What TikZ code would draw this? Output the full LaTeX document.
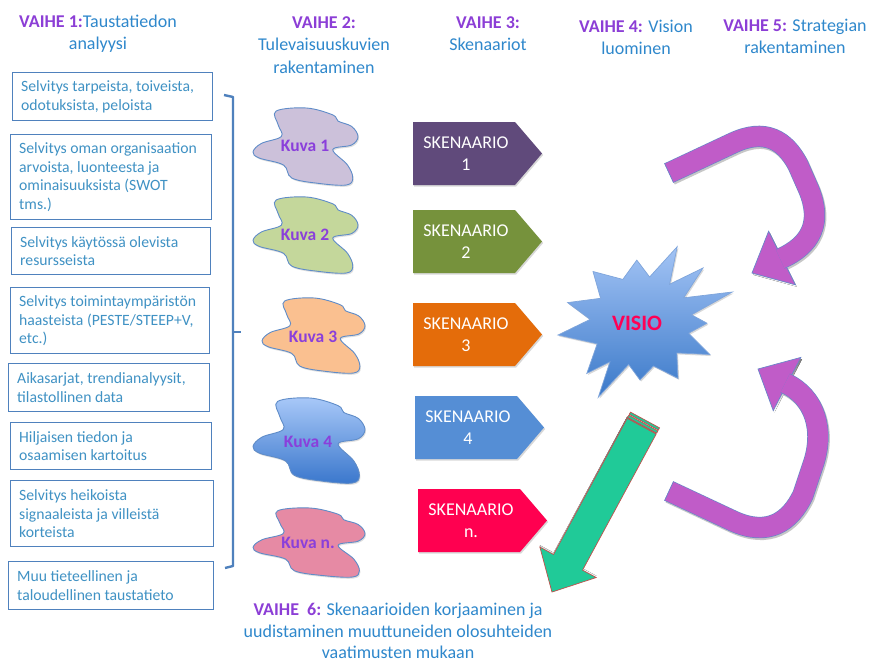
\documentclass[tikz,border=0pt]{standalone}
\usepackage{fontspec}
\setmainfont{Carlito}
\usetikzlibrary{shadows}

\definecolor{vaihe}{RGB}{140,62,214}
\definecolor{headblue}{RGB}{47,136,204}
\definecolor{boxtext}{RGB}{64,146,196}
\definecolor{boxedge}{RGB}{79,129,189}
\definecolor{kuvatext}{RGB}{138,63,219}
\definecolor{blobedge}{RGB}{95,140,200}
\definecolor{kuvaA}{HTML}{CCC1DA}
\definecolor{kuvaB}{HTML}{C4D79B}
\definecolor{kuvaC}{HTML}{FAC090}
\definecolor{kuvaDtop}{HTML}{A8C8F8}
\definecolor{kuvaDbot}{HTML}{3A77CC}
\definecolor{kuvaN}{HTML}{E68AA4}
\definecolor{skenA}{HTML}{604A7B}
\definecolor{skenB}{HTML}{76923C}
\definecolor{skenC}{HTML}{E46C0A}
\definecolor{skenD}{HTML}{558ED5}
\definecolor{skenN}{HTML}{FF0050}
\definecolor{startop}{HTML}{A3C4F5}
\definecolor{starbot}{HTML}{3B79C9}
\definecolor{staredge}{HTML}{7FA5DB}
\definecolor{visiored}{HTML}{FF0055}
\definecolor{purp}{HTML}{C05CC8}
\definecolor{purpedge}{HTML}{6A86C9}
\definecolor{greenarrow}{HTML}{20CA98}
\definecolor{greenedge}{HTML}{C0504D}
\definecolor{shade}{gray}{0.78}

\newcommand\vaihetxt[1]{\textcolor{vaihe}{\bfseries #1}}

% irregular blob for the "Kuva" pictures: x, y (top left), width, height, fill options
\newcommand\kuvablob[5]{%
  \begin{scope}[shift={(#1,#2)}, x=#3pt, y=-#4pt]
    \draw[blob,#5] plot[smooth cycle, tension=0.6] coordinates {
      (0.22,0.04) (0.51,0) (0.76,0.09) (0.81,0.17) (0.94,0.24) (1,0.37)
      (0.94,0.48) (0.76,0.54) (0.90,0.74) (0.95,0.91) (0.89,1) (0.63,0.98)
      (0.37,0.91) (0.29,0.74) (0.06,0.65) (0,0.57) (0.08,0.46) (0.27,0.37)
      (0.24,0.22)};
  \end{scope}}

% pentagon arrow for a scenario: name, left x, top y, colour, label
\newcommand\skenshape[5]{%
  \draw[sken, fill=#4] (#2,#3) -- ++(102,0) -- ++(27,31.5) -- ++(-27,31.5) -- ++(-102,0) -- cycle;
  \node[skentxt] (#1) at (#2+53,#3+31.5) {SKENAARIO\\#5};}

\tikzset{
  head/.style={align=center, text=headblue, font=\fontsize{18}{22.2}\selectfont},
  lbox/.style={draw=boxedge, line width=1.3pt, anchor=north west, inner sep=0pt},
  lboxtext/.style={anchor=west, align=left, inner sep=0pt, text=boxtext,
    font=\fontsize{15.7}{18.8}\selectfont},
  bracket/.style={draw=boxedge, line width=2.4pt, line join=round},
  blob/.style={draw=blobedge, line width=0.9pt,
    drop shadow={opacity=0.25, shadow xshift=1pt, shadow yshift=-1.5pt}},
  kuvatxt/.style={text=kuvatext, font=\bfseries\fontsize{17.5}{20}\selectfont},
  sken/.style={draw=none, drop shadow={opacity=0.3, shadow xshift=1.2pt, shadow yshift=-1.5pt}},
  skentxt/.style={align=center, text=white, font=\fontsize{18}{22}\selectfont},
  purpshaft/.style={draw=purpedge, double=purp, double distance=20pt, line width=0.7pt,
    line cap=butt, line join=round},
  purphead/.style={fill=purp, draw=purpedge, line width=0.7pt, line join=miter},
  purpshadow/.style={draw=shade, line width=21.4pt, line cap=butt},
  greenshape/.style={fill=greenarrow, draw=greenedge, line width=0.7pt, line join=miter},
}

\begin{document}
\begin{tikzpicture}[x=1pt, y=-1pt]
\useasboundingbox (0,0) rectangle (869,664);
\fill[white] (0,0) rectangle (869,664);

% ---- phase headings ----
\node[head] (v1) at (98,34) {\vaihetxt{VAIHE 1:}Taustatiedon\\analyysi};
\node[head] (v2) at (324,45) {\vaihetxt{VAIHE 2:}\\Tulevaisuuskuvien\\rakentaminen};
\node[head] (v3) at (488,34) {\vaihetxt{VAIHE 3:}\\Skenaariot};
\node[head] (v4) at (636,37) {\vaihetxt{VAIHE 4:} Vision\\luominen};
\node[head] (v5) at (795,36) {\vaihetxt{VAIHE 5:} Strategian\\rakentaminen};
\node[head, font=\fontsize{18}{21.5}\selectfont] (v6) at (398,631) {\vaihetxt{VAIHE\ \ 6:} Skenaarioiden korjaaminen ja\\uudistaminen muuttuneiden olosuhteiden\\vaatimusten mukaan};

% ---- background analysis boxes ----
\node[lbox, minimum width=200pt, minimum height=48pt] (b1) at (12,72) {};
\node[lboxtext] (t1) at ([xshift=9pt]b1.west) {Selvitys tarpeista, toiveista,\\odotuksista, peloista};
\node[lbox, minimum width=201pt, minimum height=85pt] (b2) at (10,134) {};
\node[lboxtext] (t2) at ([xshift=9pt]b2.west) {Selvitys oman organisaation\\arvoista, luonteesta ja\\ominaisuuksista (SWOT\\tms.)};
\node[lbox, minimum width=199pt, minimum height=47pt] (b3) at (11,227) {};
\node[lboxtext] (t3) at ([xshift=9pt]b3.west) {Selvitys käytössä olevista\\resursseista};
\node[lbox, minimum width=199pt, minimum height=66pt] (b4) at (10,287) {};
\node[lboxtext] (t4) at ([xshift=9pt]b4.west) {Selvitys toimintaympäristön\\haasteista (PESTE/STEEP+V,\\etc.)};
\node[lbox, minimum width=201pt, minimum height=48pt] (b5) at (8,363) {};
\node[lboxtext] (t5) at ([xshift=9pt]b5.west) {Aikasarjat, trendianalyysit,\\tilastollinen data};
\node[lbox, minimum width=201pt, minimum height=47pt] (b6) at (10,422) {};
\node[lboxtext] (t6) at ([xshift=9pt]b6.west) {Hiljaisen tiedon ja\\osaamisen kartoitus};
\node[lbox, minimum width=203pt, minimum height=66pt] (b7) at (10,480) {};
\node[lboxtext] (t7) at ([xshift=9pt]b7.west) {Selvitys heikoista\\signaaleista ja villeistä\\korteista};
\node[lbox, minimum width=205pt, minimum height=48pt] (b8) at (8,561) {};
\node[lboxtext] (t8) at ([xshift=9pt]b8.west) {Muu tieteellinen ja\\taloudellinen taustatieto};

% ---- bracket gathering the boxes ----
\draw[bracket] (224,95) -- (233,97) -- (233,566) -- (225,568);
\draw[bracket] (233,332) -- (241,332);

% ---- future images ----
\kuvablob{253}{108}{105}{77}{fill=kuvaA}
\node[kuvatxt] (k1) at (305,146) {Kuva 1};
\kuvablob{253}{197}{105}{76}{fill=kuvaB}
\node[kuvatxt] (k2) at (305,235) {Kuva 2};
\kuvablob{262}{298}{103}{75}{fill=kuvaC}
\node[kuvatxt] (k3) at (313,337) {Kuva 3};
\kuvablob{253}{398}{112}{85}{top color=kuvaDtop, bottom color=kuvaDbot}
\node[kuvatxt] (k4) at (308,442) {Kuva 4};
\kuvablob{253}{508}{112}{69}{fill=kuvaN}
\node[kuvatxt] (kn) at (308,543) {Kuva n.};

% ---- scenarios ----
\skenshape{s1}{413}{122}{skenA}{1}
\skenshape{s2}{413}{210}{skenB}{2}
\skenshape{s3}{413}{303}{skenC}{3}
\skenshape{s4}{415}{396}{skenD}{4}
\skenshape{sn}{418}{489}{skenN}{n.}

% ---- vision burst ----
\draw[top color=startop, bottom color=starbot, draw=staredge, line width=0.7pt,
      drop shadow={opacity=0.3, shadow xshift=1.2pt, shadow yshift=-1.5pt}]
  (636.8,260.1) -- (649.6,277.0) -- (677.2,246.7) -- (669.6,284.2) -- (703.0,268.0)
  -- (683.7,297.8) -- (732.3,292.0) -- (691.5,314.8) -- (707.0,323.2) -- (688.7,333.2)
  -- (709.8,354.5) -- (676.8,352.9) -- (678.0,378.4) -- (653.4,366.0) -- (640.0,380.0)
  -- (628.6,364.5) -- (598.3,397.2) -- (609.9,361.9) -- (586.8,373.4) -- (597.2,343.8)
  -- (558.0,335.0) -- (590.1,319.4) -- (567.6,302.6) -- (600.6,298.3) -- (593.0,271.5)
  -- (622.8,279.4) -- cycle;
\node[text=visiored, font=\bfseries\fontsize{22}{26}\selectfont] (visio) at (637,323) {VISIO};

% ---- strategy loop, upper arrow ----
\begin{scope}[shift={(1.2,1.8)}]
  \fill[shade] (752,273) -- (795.4,284.8) -- (768.6,231.2) -- cycle;
  \draw[purpshadow] (669,173) -- (733,143) .. controls (765,128) and (785,140) .. (798,165)
    -- (809,190) .. controls (822,222) and (812,245) .. (780.2,258.9);
\end{scope}
\filldraw[purphead] (752,273) -- (795.4,284.8) -- (768.6,231.2) -- cycle;
\draw[purpshaft] (669,173) -- (733,143) .. controls (765,128) and (785,140) .. (798,165)
  -- (809,190) .. controls (822,222) and (812,245) .. (780.2,258.9);
\draw[purpedge, line width=0.7pt] (673.5,182.7) -- (664.5,163.3);

% ---- strategy loop, lower arrow ----
\begin{scope}[shift={(1.2,1.8)}]
  \fill[shade] (758,369) -- (800.8,357.4) -- (773.2,410.6) -- cycle;
  \draw[purpshadow] (669,491) -- (733,521) .. controls (768,537) and (790,522) .. (803,495)
    -- (813,465) .. controls (825,430) and (815,397) .. (785.2,383.1);
\end{scope}
\filldraw[purphead] (758,369) -- (800.8,357.4) -- (773.2,410.6) -- cycle;
\draw[purpshaft] (669,491) -- (733,521) .. controls (768,537) and (790,522) .. (803,495)
  -- (813,465) .. controls (825,430) and (815,397) .. (785.2,383.1);
\draw[purpedge, line width=0.7pt] (664.5,500.7) -- (673.5,481.3);

% ---- striped arrow back towards the scenarios ----
\begin{scope}[shift={(645,420)}, x={(-0.476pt,-0.880pt)}, y={(0.880pt,-0.476pt)}]
  \begin{scope}[shift={(-1.6,-0.8)}]
    \fill[shade] (7,-16.5) -- (161.7,-16.5) -- (161.7,-32) -- (195.5,0) -- (161.7,32)
      -- (161.7,16.5) -- (7,16.5) -- cycle;
  \end{scope}
  \filldraw[greenshape] (0,-16.5) -- (2.5,-16.5) -- (2.5,16.5) -- (0,16.5) -- cycle;
  \filldraw[greenshape] (3.5,-16.5) -- (6,-16.5) -- (6,16.5) -- (3.5,16.5) -- cycle;
  \filldraw[greenshape] (7,-16.5) -- (161.7,-16.5) -- (161.7,-32) -- (195.5,0) -- (161.7,32)
    -- (161.7,16.5) -- (7,16.5) -- cycle;
\end{scope}
\end{tikzpicture}
\end{document}
